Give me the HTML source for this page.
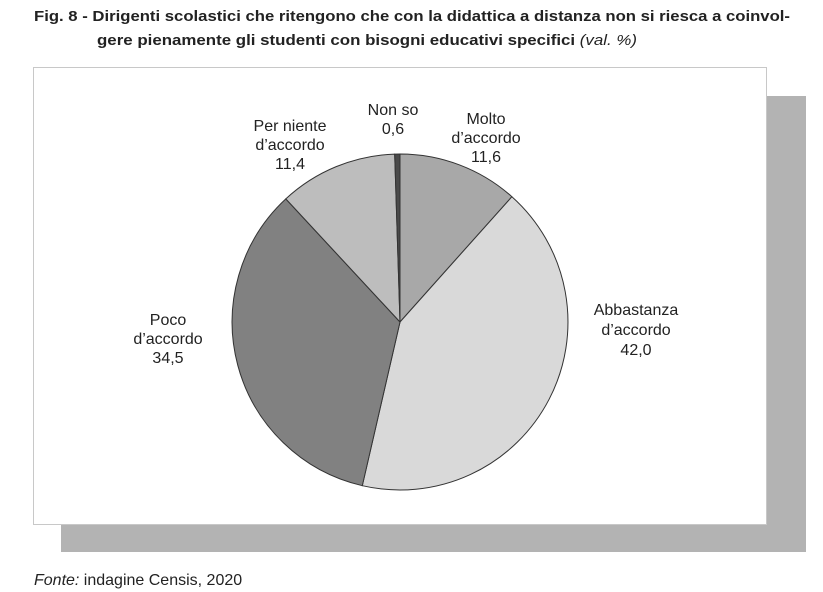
<!DOCTYPE html>
<html><head><meta charset="utf-8"><style>
body{margin:0;background:#fff;width:823px;height:592px;overflow:hidden;font-family:"Liberation Sans",Arial,sans-serif;}
</style></head><body>
<svg width="823" height="592" xmlns="http://www.w3.org/2000/svg" style="position:absolute;left:0;top:0">
<text x="34" y="21" font-size="15" font-weight="bold" fill="#222" textLength="756" lengthAdjust="spacingAndGlyphs">Fig. 8 - Dirigenti scolastici che ritengono che con la didattica a distanza non si riesca a coinvol-</text>
<text x="97" y="45" font-size="15" fill="#222" textLength="540" lengthAdjust="spacingAndGlyphs"><tspan font-weight="bold">gere pienamente gli studenti con bisogni educativi specifici</tspan> <tspan font-style="italic">(val. %)</tspan></text>
<rect x="61" y="96" width="745" height="456" fill="#b3b3b3"/>
<rect x="33.5" y="67.5" width="733" height="457" fill="#fff" stroke="#c8c8c8"/>
<g stroke="#333" stroke-width="1">
<path d="M400,322 L400,154 A168,168 0 0 1 511.9,196.7 Z" fill="#a8a8a8"/>
<path d="M400,322 L511.9,196.7 A168,168 0 0 1 362.3,485.7 Z" fill="#d9d9d9"/>
<path d="M400,322 L362.3,485.7 A168,168 0 0 1 285.8,198.9 Z" fill="#818181"/>
<path d="M400,322 L285.8,198.9 A168,168 0 0 1 394.7,154.1 Z" fill="#bdbdbd"/>
<path d="M400,322 L394.7,154.1 A168,168 0 0 1 400,154 Z" fill="#4a4a4a"/>
</g>
<g font-size="16" fill="#222" text-anchor="middle">
<text x="393" y="115">Non so</text><text x="393" y="134">0,6</text>
<text x="486" y="124">Molto</text><text x="486" y="143">d’accordo</text><text x="486" y="162">11,6</text>
<text x="290" y="131">Per niente</text><text x="290" y="150">d’accordo</text><text x="290" y="169">11,4</text>
<text x="168" y="325">Poco</text><text x="168" y="344">d’accordo</text><text x="168" y="363">34,5</text>
<text x="636" y="315">Abbastanza</text><text x="636" y="335">d’accordo</text><text x="636" y="355">42,0</text>
</g>
<text x="34" y="585" font-size="16" fill="#222"><tspan font-style="italic">Fonte:</tspan> indagine Censis, 2020</text>
</svg>
</body></html>
